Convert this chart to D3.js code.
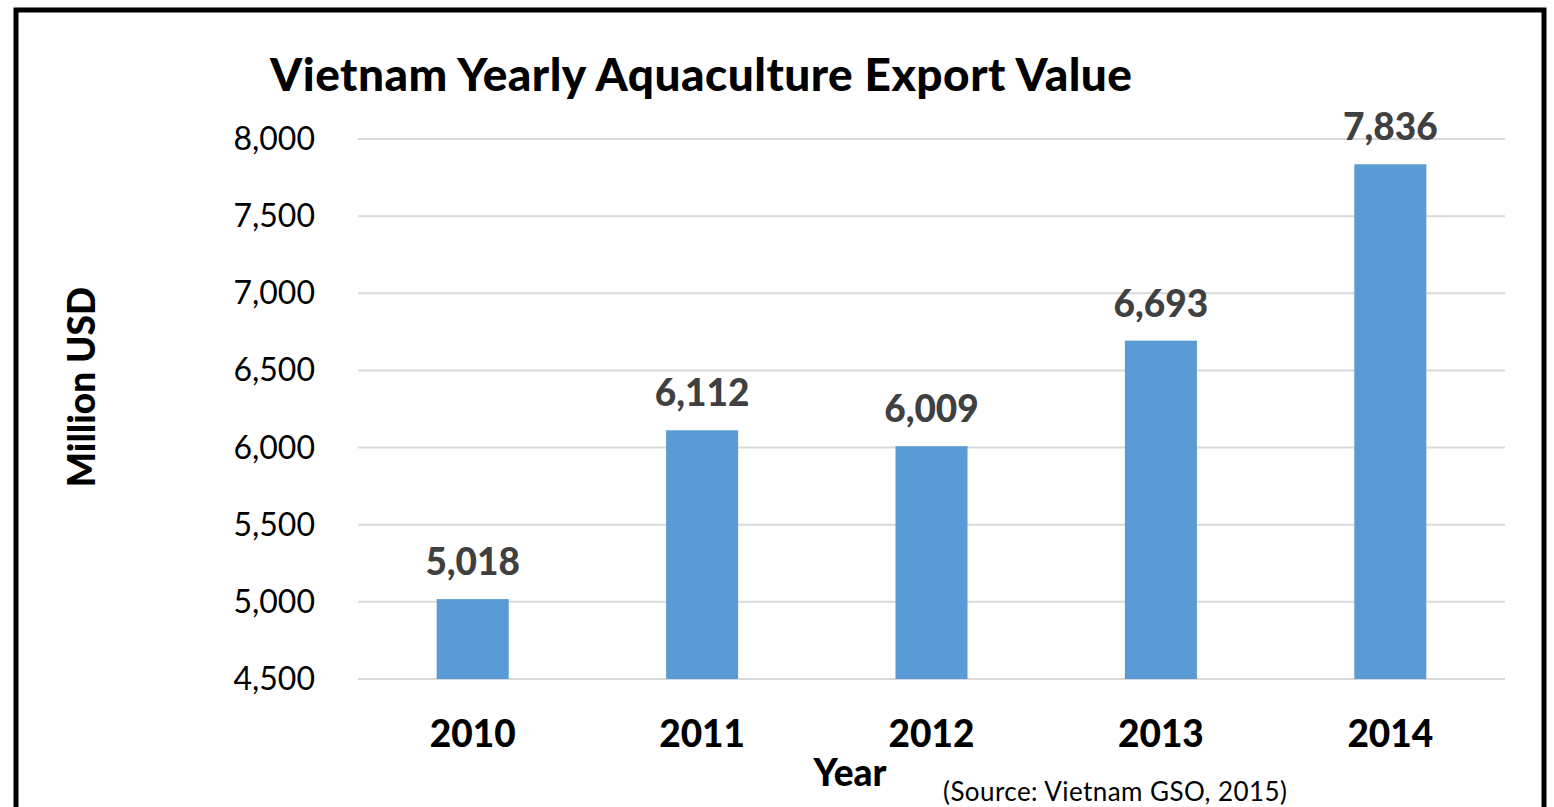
<!DOCTYPE html>
<html>
<head>
<meta charset="utf-8">
<script src="https://cdn.jsdelivr.net/npm/d3@7"></script>
<style>
  html, body { margin: 0; padding: 0; background: #fff; }
  svg { display: block; }
  text { font-family: Lato, "Open Sans", sans-serif; }
</style>
</head>
<body>
<script>
// Vietnam yearly aquaculture export value, million USD
const years = ["2010", "2011", "2012", "2013", "2014"];
const exportValues = [5018, 6112, 6009, 6693, 7836];
const yTicks = [4500, 5000, 5500, 6000, 6500, 7000, 7500, 8000];

const W = 1554, H = 807;
const plot = { left: 358, right: 1505, top: 139, bottom: 679 };

const svg = d3.select("body").append("svg")
  .attr("width", W).attr("height", H);

// outer frame
svg.append("rect")
  .attr("x", 16).attr("y", 10)
  .attr("width", 1528).attr("height", 840)
  .attr("fill", "#fff")
  .attr("stroke", "#000").attr("stroke-width", 5);

const x = d3.scaleBand()
  .domain(years)
  .range([plot.left, plot.right])
  .paddingInner(0.686)
  .paddingOuter(0.343);

const y = d3.scaleLinear()
  .domain([4500, 8000])
  .range([plot.bottom, plot.top]);

// horizontal gridlines
svg.append("g")
  .selectAll("line")
  .data(yTicks)
  .join("line")
  .attr("x1", plot.left).attr("x2", plot.right)
  .attr("y1", d => y(d)).attr("y2", d => y(d))
  .attr("stroke", "#d9d9d9").attr("stroke-width", 2);

// y axis tick labels
const fmt = d3.format(",");
svg.append("g")
  .selectAll("text")
  .data(yTicks)
  .join("text")
  .attr("x", 315)
  .attr("y", d => y(d) + 11)
  .attr("text-anchor", "end")
  .attr("font-size", 32)
  .attr("fill", "#000")
  .text(d => fmt(d));

// bars
svg.append("g")
  .selectAll("rect")
  .data(years)
  .join("rect")
  .attr("x", d => x(d))
  .attr("width", x.bandwidth())
  .attr("y", (d, i) => y(exportValues[i]))
  .attr("height", (d, i) => y(4500) - y(exportValues[i]))
  .attr("fill", "#5b9bd5");

// value labels
svg.append("g")
  .selectAll("text")
  .data(years)
  .join("text")
  .attr("x", d => x(d) + x.bandwidth() / 2)
  .attr("y", (d, i) => y(exportValues[i]) - 24)
  .attr("text-anchor", "middle")
  .attr("font-size", 37)
  .attr("font-weight", 900)
  .attr("fill", "#404040")
  .text((d, i) => fmt(exportValues[i]));

// x axis labels
svg.append("g")
  .selectAll("text")
  .data(years)
  .join("text")
  .attr("x", d => x(d) + x.bandwidth() / 2)
  .attr("y", 747)
  .attr("text-anchor", "middle")
  .attr("font-size", 37)
  .attr("font-weight", 900)
  .attr("fill", "#000")
  .text(d => d);

// title
svg.append("text")
  .attr("x", 270).attr("y", 91)
  .attr("font-size", 46)
  .attr("font-weight", 900)
  .attr("textLength", 862)
  .attr("lengthAdjust", "spacing")
  .attr("fill", "#000")
  .text("Vietnam Yearly Aquaculture Export Value");

// axis titles
svg.append("text")
  .attr("x", 850).attr("y", 786)
  .attr("text-anchor", "middle")
  .attr("font-size", 37)
  .attr("font-weight", 900)
  .attr("fill", "#000")
  .text("Year");

svg.append("text")
  .attr("transform", "translate(95,387) rotate(-90)")
  .attr("text-anchor", "middle")
  .attr("font-size", 37)
  .attr("font-weight", 900)
  .attr("fill", "#000")
  .text("Million USD");

svg.append("text")
  .attr("x", 943).attr("y", 801)
  .attr("font-size", 26)
  .attr("textLength", 344)
  .attr("lengthAdjust", "spacing")
  .attr("fill", "#000")
  .text("(Source: Vietnam GSO, 2015)");
</script>
</body>
</html>
